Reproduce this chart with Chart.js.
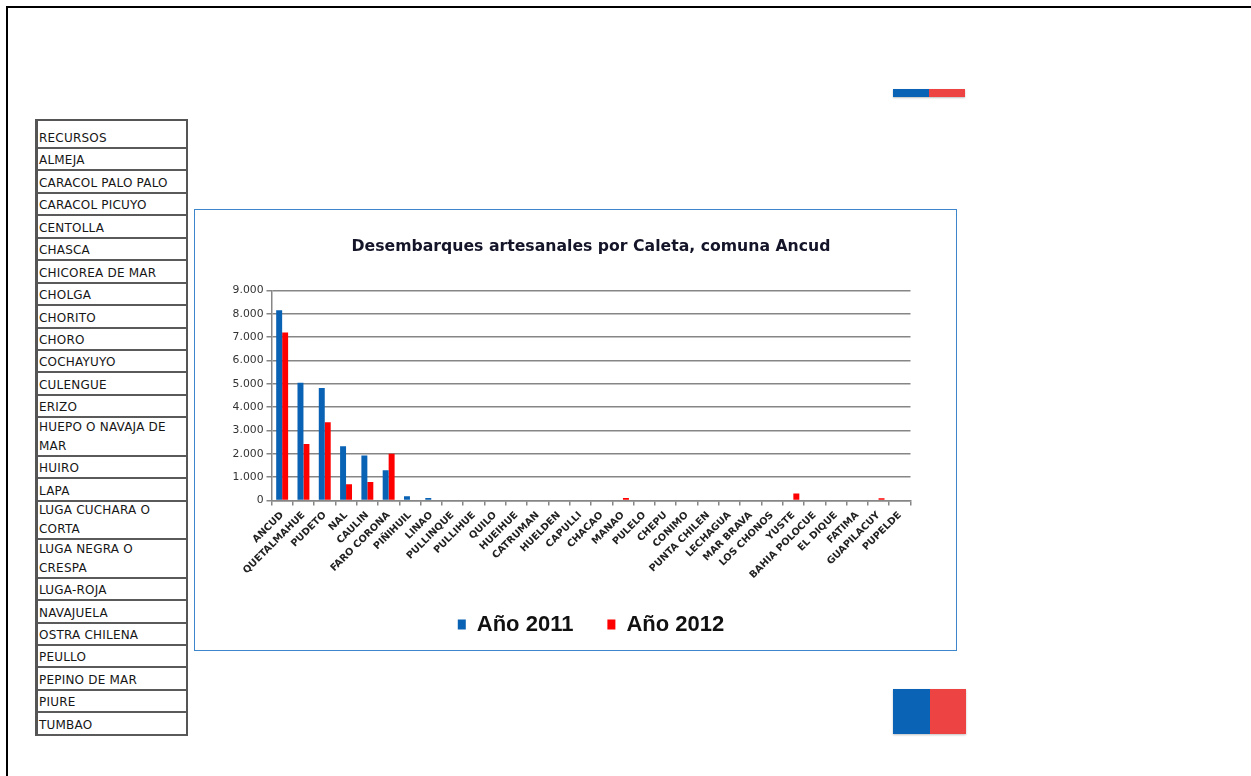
<!DOCTYPE html>
<html>
<head>
<meta charset="utf-8">
<script src="https://cdn.jsdelivr.net/npm/chart.js@4.4.1/dist/chart.umd.min.js"></script>
<style>
  html, body { margin:0; padding:0; background:#fff; width:1251px; height:776px; overflow:hidden; }
  .frame { position:absolute; left:6px; top:6px; width:1320px; height:820px; border:2.5px solid #000; box-sizing:border-box; }
  .tabla { position:absolute; left:35px; top:119px; width:153px; border-left:3px solid #555; border-right:2px solid #555; border-top:2px solid #555; box-sizing:border-box; }
  .fila { border-bottom:2px solid #5a5a5a; box-sizing:border-box; font:12px "DejaVu Sans", sans-serif; letter-spacing:0.2px; color:#161616; white-space:pre; padding-left:1px; display:flex; align-items:flex-end; line-height:19px; padding-bottom:0; overflow:hidden; }
  .fila span { position:relative; top:1px; }
  .caja { position:absolute; left:194px; top:209px; width:763px; height:442px; border:1.5px solid #3d86cc; box-sizing:border-box; }
  .caja canvas { display:block; }
  .bandera { position:absolute; display:flex; box-shadow:0 1px 2px rgba(0,0,0,0.25); }
  .bandera span:first-child { background:#0b63b6; flex:1; }
  .bandera span:last-child { background:#ee4343; flex:1; }
</style>
</head>
<body>
<div class="frame"></div>
<div class="tabla" id="tabla"></div>
<div class="bandera" style="left:893px;top:89px;width:72px;height:8px;"><span></span><span></span></div>
<div class="bandera" style="left:893px;top:689px;width:73px;height:45px;"><span></span><span></span></div>
<div class="caja"><canvas id="chart" width="760" height="439"></canvas></div>
<script>
// ---- datos
const categories = ['ANCUD','QUETALMAHUE','PUDETO','NAL','CAULIN','FARO CORONA','PIÑIHUIL','LINAO',
  'PULLINQUE','PULLIHUE','QUILO','HUEIHUE','CATRUMAN','HUELDEN','CAPULLI','CHACAO','MANAO','PULELO',
  'CHEPU','CONIMO','PUNTA CHILEN','LECHAGUA','MAR BRAVA','LOS CHONOS','YUSTE','BAHIA POLOCUE',
  'EL DIQUE','FATIMA','GUAPILACUY','PUPELDE'];
const serie2011 = [8150,5050,4820,2330,1930,1300,180,110,0,0,0,0,0,0,0,0,0,0,0,0,0,0,0,0,0,0,0,0,0,0];
const serie2012 = [7200,2420,3350,700,790,2000,0,0,0,0,0,0,0,0,0,0,110,0,0,0,0,0,0,0,300,0,0,0,100,0];
const seriesNames = ['Año 2011','Año 2012'];
const yTickLabels = ['0','1.000','2.000','3.000','4.000','5.000','6.000','7.000','8.000','9.000'];
const recursos = ['RECURSOS','ALMEJA','CARACOL PALO PALO','CARACOL PICUYO','CENTOLLA','CHASCA',
  'CHICOREA DE MAR','CHOLGA','CHORITO','CHORO','COCHAYUYO','CULENGUE','ERIZO','HUEPO O NAVAJA DE\nMAR',
  'HUIRO','LAPA','LUGA CUCHARA O\nCORTA','LUGA NEGRA O\nCRESPA','LUGA-ROJA','NAVAJUELA','OSTRA CHILENA',
  'PEULLO','PEPINO DE MAR','PIURE','TUMBAO'];

// ---- tabla de recursos
const tabla = document.getElementById('tabla');
recursos.forEach((r, i) => {
  const d = document.createElement('div');
  d.className = 'fila';
  const lines = r.split('\n').length;
  d.style.height = (i === 0 ? 28 : (lines > 1 ? 38.5 : 22.45)) + 'px';
  const s = document.createElement('span');
  s.textContent = r;
  d.appendChild(s);
  tabla.appendChild(d);
});

// ---- grafico
const GRID = '#868686';
new Chart(document.getElementById('chart').getContext('2d'), {
  type: 'bar',
  data: {
    labels: categories,
    datasets: [
      { label: seriesNames[0], data: serie2011, backgroundColor: '#0a62b4', categoryPercentage: 0.56, barPercentage: 1 },
      { label: seriesNames[1], data: serie2012, backgroundColor: '#ff0000', categoryPercentage: 0.56, barPercentage: 1 }
    ]
  },
  options: {
    responsive: false,
    animation: false,
    layout: { padding: { left: 31.5, right: 44.5, top: 0, bottom: 3.5 } },
    plugins: {
      title: {
        display: true,
        text: 'Desembarques artesanales por Caleta, comuna Ancud',
        fullSize: false,
        color: '#15152a',
        font: { family: 'DejaVu Sans', size: 15.7, weight: 'bold' },
        padding: { top: 28, bottom: 33.7 }
      },
      legend: {
        position: 'bottom',
        fullSize: false,
        labels: { boxWidth: 8, boxHeight: 10, padding: 34, color: '#111',
                  font: { family: 'Liberation Sans', size: 22, weight: 'bold' } }
      },
      tooltip: { enabled: false }
    },
    scales: {
      x: {
        grid: { drawOnChartArea: false, tickLength: 5, color: GRID, lineWidth: 1.5 },
        border: { color: GRID, width: 1.5 },
        ticks: { autoSkip: false, maxRotation: 45, minRotation: 45, padding: 4, color: '#222',
                 font: { family: 'DejaVu Sans', size: 9.8, weight: 'bold' } },
        afterFit: s => { s.height = 79; }
      },
      y: {
        min: 0, max: 9000,
        ticks: { stepSize: 1000, padding: 3, color: '#333',
                 font: { family: 'DejaVu Sans', size: 10.8 },
                 callback: (v, i) => yTickLabels[i] },
        grid: { color: GRID, lineWidth: 1.5, tickLength: 5 },
        border: { color: GRID, width: 1.5 },
        afterFit: s => { s.width = 45; }
      }
    }
  }
});
</script>
</body>
</html>
